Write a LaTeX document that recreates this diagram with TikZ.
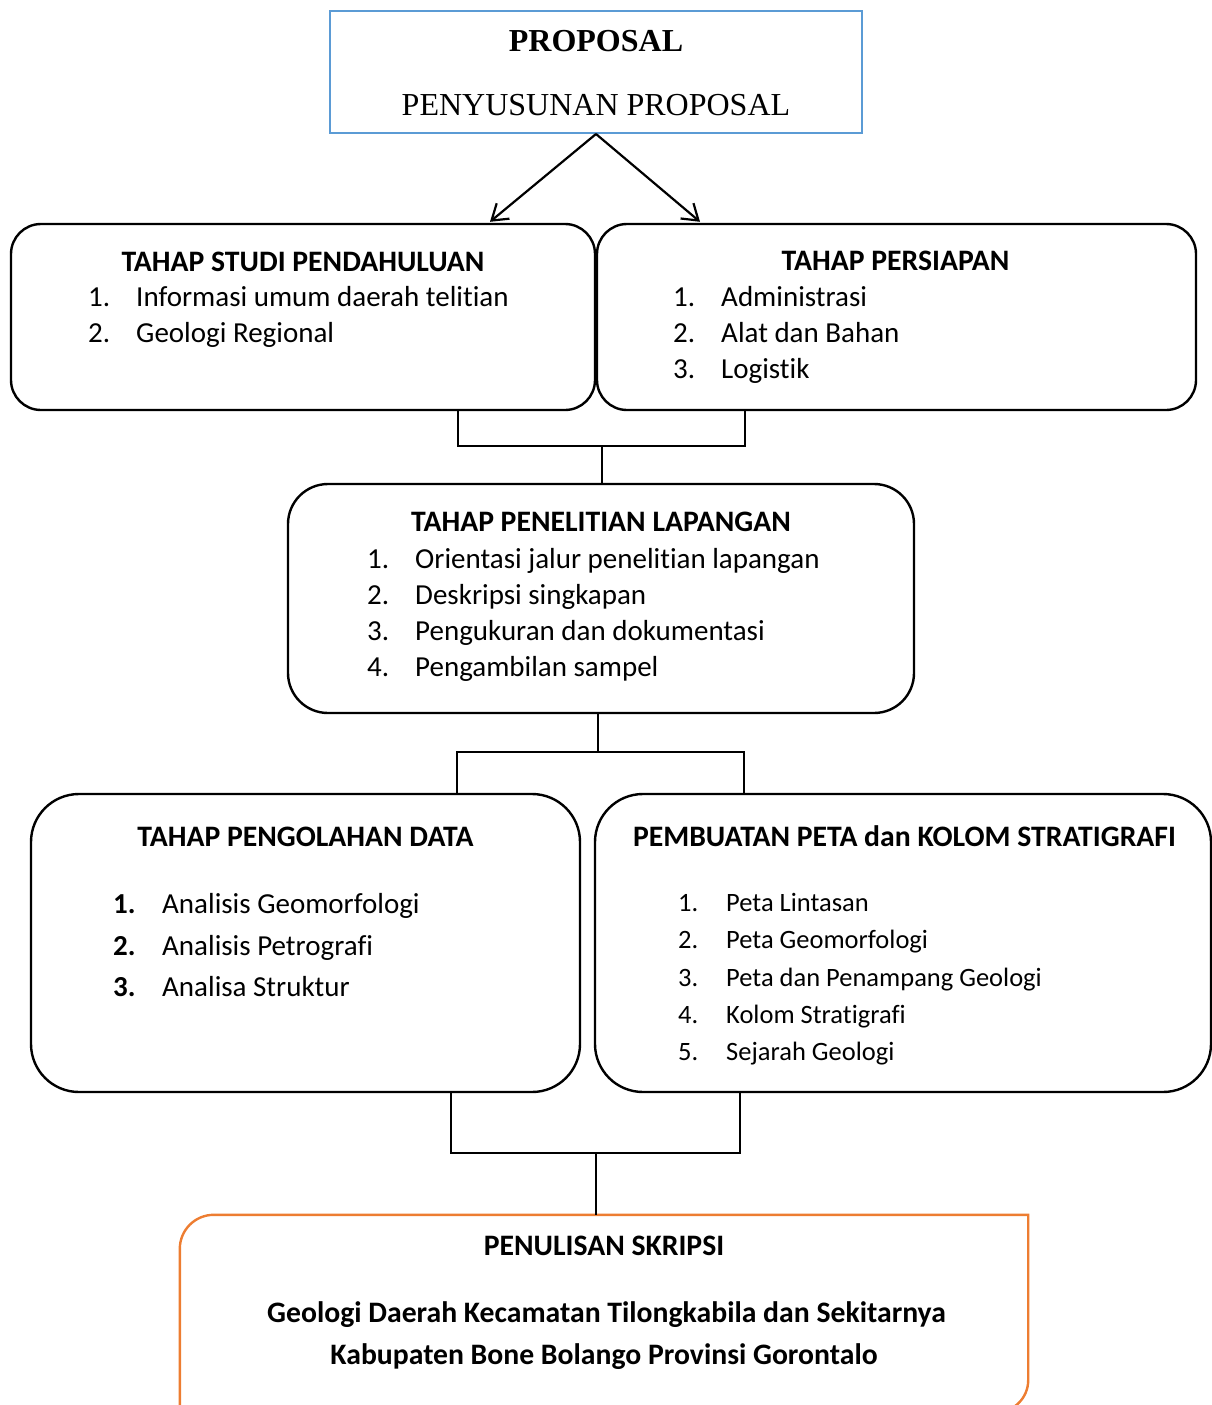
\documentclass[tikz,border=0pt]{standalone}
\usepackage{fontspec}
\newfontfamily\calib[RawFeature={-liga;-clig;-calt;-dlig}]{Carlito}
\newfontfamily\tnr{Liberation Serif}
\usetikzlibrary{arrows.meta}
\definecolor{boxblue}{RGB}{91,155,213}
\definecolor{boxorange}{RGB}{237,125,49}
\begin{document}
\begin{tikzpicture}[x=1pt,y=-1pt,
  stagebox/.style={draw=black, line width=2.4pt, rectangle, inner sep=0pt},
  conn/.style={draw=black, line width=2.4pt},
  arr/.style={draw=black, line width=2.2pt, -{Straight Barb[length=15pt,width=20pt,line width=2.2pt]}},
  ttl/.style={anchor=base, inner sep=0pt, font=\calib\bfseries\fontsize{29.7}{35}\selectfont},
  itm/.style={anchor=base west, inner sep=0pt, font=\calib\fontsize{29}{35}\selectfont},
  itmb/.style={anchor=base west, inner sep=0pt, font=\calib\bfseries\fontsize{29}{35}\selectfont},
  itms/.style={anchor=base west, inner sep=0pt, font=\calib\fontsize{26.5}{32}\selectfont},
]
\useasboundingbox (0,0) rectangle (1212,1405);
\clip (0,0) rectangle (1212,1405);

% ---------- boxes ----------
\node[draw=boxblue, line width=2pt, rectangle, inner sep=0pt, minimum width=532pt, minimum height=122pt] (top) at (596,72) {};
\node[stagebox, rounded corners=30pt, minimum width=584pt, minimum height=186pt] (A) at (303,317) {};
\node[stagebox, rounded corners=30pt, minimum width=599pt, minimum height=186pt] (B) at (896.5,317) {};
\node[stagebox, rounded corners=40pt, minimum width=626pt, minimum height=229pt] (C) at (601,598.5) {};
\node[stagebox, rounded corners=48pt, minimum width=549pt, minimum height=298pt] (D) at (305.5,943) {};
\node[stagebox, rounded corners=48pt, minimum width=616pt, minimum height=298pt] (E) at (903,943) {};
\node[rectangle, inner sep=0pt, minimum width=848pt, minimum height=197pt] (F) at (604,1313.5) {};
\draw[boxorange, line width=2.4pt]
  (F.south west) -- ([yshift=-34pt]F.north west)
  arc[start angle=180, end angle=90, radius=34pt]
  -- (F.north east) -- ([yshift=32pt]F.south east)
  arc[start angle=0, end angle=-90, radius=32pt]
  -- (F.south west);

% ---------- texts ----------
\node[anchor=base, inner sep=0pt, font=\tnr\bfseries\fontsize{32}{38}\selectfont] (t1) at (596,52) {PROPOSAL};
\node[anchor=base, inner sep=0pt, font=\tnr\fontsize{32}{38}\selectfont] (t2) at (596,115) {PENYUSUNAN PROPOSAL};

\node[ttl] (at) at (303,271) {TAHAP STUDI PENDAHULUAN};
\node[itm] (an1) at (88,306) {1.};
\node[itm] (ai1) at (136,306) {Informasi umum daerah telitian};
\node[itm] (an2) at (88,342) {2.};
\node[itm] (ai2) at (136,342) {Geologi Regional};

\node[ttl] (bt) at (895.5,270) {TAHAP PERSIAPAN};
\node[itm] (bn1) at (673,306) {1.};
\node[itm] (bi1) at (721,306) {Administrasi};
\node[itm] (bn2) at (673,342) {2.};
\node[itm] (bi2) at (721,342) {Alat dan Bahan};
\node[itm] (bn3) at (673,378) {3.};
\node[itm] (bi3) at (721,378) {Logistik};

\node[ttl] (ct) at (601,531) {TAHAP PENELITIAN LAPANGAN};
\node[itm] (cn1) at (367,568) {1.};
\node[itm] (ci1) at (415,568) {Orientasi jalur penelitian lapangan};
\node[itm] (cn2) at (367,604) {2.};
\node[itm] (ci2) at (415,604) {Deskripsi singkapan};
\node[itm] (cn3) at (367,640) {3.};
\node[itm] (ci3) at (415,640) {Pengukuran dan dokumentasi};
\node[itm] (cn4) at (367,676) {4.};
\node[itm] (ci4) at (415,676) {Pengambilan sampel};

\node[ttl] (dt) at (305.5,846) {TAHAP PENGOLAHAN DATA};
\node[itmb] (dn1) at (113,913) {1.};
\node[itm] (di1) at (162,913) {Analisis Geomorfologi};
\node[itmb] (dn2) at (113,955) {2.};
\node[itm] (di2) at (162,955) {Analisis Petrografi};
\node[itmb] (dn3) at (113,996) {3.};
\node[itm] (di3) at (162,996) {Analisa Struktur};

\node[ttl] (et) at (904.5,846) {PEMBUATAN PETA dan KOLOM STRATIGRAFI};
\node[itms] (en1) at (678,911) {1.};
\node[itms] (ei1) at (726,911) {Peta Lintasan};
\node[itms] (en2) at (678,948) {2.};
\node[itms] (ei2) at (726,948) {Peta Geomorfologi};
\node[itms] (en3) at (678,986) {3.};
\node[itms] (ei3) at (726,986) {Peta dan Penampang Geologi};
\node[itms] (en4) at (678,1023) {4.};
\node[itms] (ei4) at (726,1023) {Kolom Stratigrafi};
\node[itms] (en5) at (678,1060) {5.};
\node[itms] (ei5) at (726,1060) {Sejarah Geologi};

\node[ttl] (ft) at (604,1255) {PENULISAN SKRIPSI};
\node[ttl] (fl1) at (606.5,1322) {Geologi Daerah Kecamatan Tilongkabila dan Sekitarnya};
\node[ttl] (fl2) at (604,1364) {Kabupaten Bone Bolango Provinsi Gorontalo};

% ---------- connectors ----------
\coordinate (aL) at (490,0);
\coordinate (aR) at (700,0);
\draw[arr] (top.south) -- ([yshift=1pt]A.north -| aL);
\draw[arr] (top.south) -- ([yshift=1pt]B.north -| aR);

\coordinate (j1) at (602,446);
\coordinate (j1a) at (458,446);
\coordinate (j1b) at (745,446);
\draw[conn] (A.south -| j1a) -- (j1a) -- (j1b) -- (B.south -| j1b);
\draw[conn] (j1) -- (C.north -| j1);

\coordinate (j2) at (598,752);
\coordinate (j2a) at (457,752);
\coordinate (j2b) at (744,752);
\draw[conn] (C.south -| j2) -- (j2);
\draw[conn] (D.north -| j2a) -- (j2a) -- (j2b) -- (E.north -| j2b);

\coordinate (j3) at (596,1153);
\coordinate (j3a) at (451,1153);
\coordinate (j3b) at (740,1153);
\draw[conn] (D.south -| j3a) -- (j3a) -- (j3b) -- (E.south -| j3b);
\draw[conn] (j3) -- (F.north -| j3);
\end{tikzpicture}
\end{document}
